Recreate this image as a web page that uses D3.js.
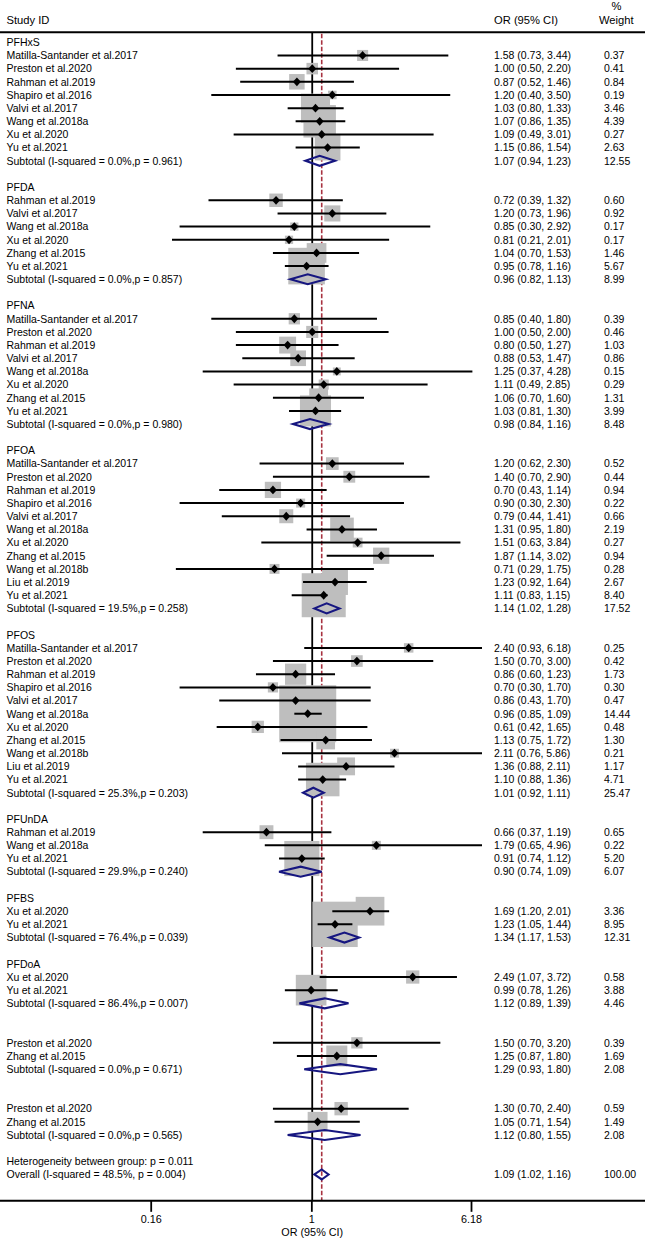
<!DOCTYPE html>
<html>
<head>
<meta charset="utf-8">
<script src="https://cdn.jsdelivr.net/npm/d3@7"></script>
<style>
  html, body { margin: 0; padding: 0; background: #fff; }
  svg { display: block; }
  text { font-family: "Liberation Sans", Arial, sans-serif; fill: #000; }
</style>
</head>
<body>
<svg id="chart" width="645" height="1240"></svg>
<script>
// ---------------- DATA ----------------
const groupNames = ["PFHxS", "PFDA", "PFNA", "PFOA", "PFOS", "PFUnDA", "PFBS", "PFDoA", "", ""];

const studyGroup = [
  0,0,0,0,0,0,0,0,
  1,1,1,1,1,1,
  2,2,2,2,2,2,2,2,
  3,3,3,3,3,3,3,3,3,3,3,
  4,4,4,4,4,4,4,4,4,4,4,
  5,5,5,
  6,6,
  7,7,
  8,8,
  9,9
];

const studyLabels = [
  "Matilla-Santander et al.2017","Preston et al.2020","Rahman et al.2019","Shapiro et al.2016","Valvi et al.2017","Wang et al.2018a","Xu et al.2020","Yu et al.2021",
  "Rahman et al.2019","Valvi et al.2017","Wang et al.2018a","Xu et al.2020","Zhang et al.2015","Yu et al.2021",
  "Matilla-Santander et al.2017","Preston et al.2020","Rahman et al.2019","Valvi et al.2017","Wang et al.2018a","Xu et al.2020","Zhang et al.2015","Yu et al.2021",
  "Matilla-Santander et al.2017","Preston et al.2020","Rahman et al.2019","Shapiro et al.2016","Valvi et al.2017","Wang et al.2018a","Xu et al.2020","Zhang et al.2015","Wang et al.2018b","Liu et al.2019","Yu et al.2021",
  "Matilla-Santander et al.2017","Preston et al.2020","Rahman et al.2019","Shapiro et al.2016","Valvi et al.2017","Wang et al.2018a","Xu et al.2020","Zhang et al.2015","Wang et al.2018b","Liu et al.2019","Yu et al.2021",
  "Rahman et al.2019","Wang et al.2018a","Yu et al.2021",
  "Xu et al.2020","Yu et al.2021",
  "Xu et al.2020","Yu et al.2021",
  "Preston et al.2020","Zhang et al.2015",
  "Preston et al.2020","Zhang et al.2015"
];

const studyOR = [
  1.58,1.00,0.87,1.20,1.03,1.07,1.09,1.15,
  0.72,1.20,0.85,0.81,1.04,0.95,
  0.85,1.00,0.80,0.88,1.25,1.11,1.06,1.03,
  1.20,1.40,0.70,0.90,0.79,1.31,1.51,1.87,0.71,1.23,1.11,
  2.40,1.50,0.86,0.70,0.86,0.96,0.61,1.13,2.11,1.36,1.10,
  0.66,1.79,0.91,
  1.69,1.23,
  2.49,0.99,
  1.50,1.25,
  1.30,1.05
];
const studyLo = [
  0.73,0.50,0.52,0.40,0.80,0.86,0.49,0.86,
  0.39,0.73,0.30,0.21,0.70,0.78,
  0.40,0.50,0.50,0.53,0.37,0.49,0.70,0.81,
  0.62,0.70,0.43,0.30,0.44,0.95,0.63,1.14,0.29,0.92,0.83,
  0.93,0.70,0.60,0.30,0.43,0.85,0.42,0.75,0.76,0.88,0.88,
  0.37,0.65,0.74,
  1.20,1.05,
  1.07,0.78,
  0.70,0.87,
  0.70,0.71
];
const studyHi = [
  3.44,2.20,1.46,3.50,1.33,1.35,3.01,1.54,
  1.32,1.96,2.92,2.01,1.53,1.16,
  1.80,2.00,1.27,1.47,4.28,2.85,1.60,1.30,
  2.30,2.90,1.14,2.30,1.41,1.80,3.84,3.02,1.75,1.64,1.15,
  6.18,3.00,1.23,1.70,1.70,1.09,1.65,1.72,5.86,2.11,1.36,
  1.19,4.96,1.12,
  2.01,1.44,
  3.72,1.26,
  3.20,1.80,
  2.40,1.54
];
const studyWeight = [
  0.37,0.41,0.84,0.19,3.46,4.39,0.27,2.63,
  0.60,0.92,0.17,0.17,1.46,5.67,
  0.39,0.46,1.03,0.86,0.15,0.29,1.31,3.99,
  0.52,0.44,0.94,0.22,0.66,2.19,0.27,0.94,0.28,2.67,8.40,
  0.25,0.42,1.73,0.30,0.47,14.44,0.48,1.30,0.21,1.17,4.71,
  0.65,0.22,5.20,
  3.36,8.95,
  0.58,3.88,
  0.39,1.69,
  0.59,1.49
];

const subtotalLabels = [
  "Subtotal (I-squared = 0.0%,p = 0.961)",
  "Subtotal (I-squared = 0.0%,p = 0.857)",
  "Subtotal (I-squared = 0.0%,p = 0.980)",
  "Subtotal (I-squared = 19.5%,p = 0.258)",
  "Subtotal (I-squared = 25.3%,p = 0.203)",
  "Subtotal (I-squared = 29.9%,p = 0.240)",
  "Subtotal (I-squared = 76.4%,p = 0.039)",
  "Subtotal (I-squared = 86.4%,p = 0.007)",
  "Subtotal (I-squared = 0.0%,p = 0.671)",
  "Subtotal (I-squared = 0.0%,p = 0.565)"
];
const subtotalOR     = [1.07, 0.96, 0.98, 1.14, 1.01, 0.90, 1.34, 1.12, 1.29, 1.12];
const subtotalLo     = [0.94, 0.82, 0.84, 1.02, 0.92, 0.74, 1.17, 0.89, 0.93, 0.80];
const subtotalHi     = [1.23, 1.13, 1.16, 1.28, 1.11, 1.09, 1.53, 1.39, 1.80, 1.55];
const subtotalWeight = [12.55, 8.99, 8.48, 17.52, 25.47, 6.07, 12.31, 4.46, 2.08, 2.08];

const heterogeneityLabel = "Heterogeneity between group: p = 0.011";
const overallLabel = "Overall (I-squared = 48.5%, p = 0.004)";
const overallOR = 1.09, overallLo = 1.02, overallHi = 1.16, overallWeight = 100.00;

const axisTickValues = [0.16, 1, 6.18];
const headerStudy = "Study ID", headerEffect = "OR (95% CI)", headerWeightTop = "%", headerWeight = "Weight";
const axisTitle = "OR (95% CI)";

// ---------------- LAYOUT ----------------
const W = 645, H = 1240;
const svg = d3.select("#chart");

// build rows
const rows = [];
let r = 0;
groupNames.forEach((g, gi) => {
  rows.push({ type: "group", label: g, row: r++ });
  studyLabels.forEach((lab, i) => {
    if (studyGroup[i] === gi) {
      rows.push({ type: "study", label: lab, or: studyOR[i], lo: studyLo[i], hi: studyHi[i], w: studyWeight[i], row: r++ });
    }
  });
  rows.push({ type: "subtotal", label: subtotalLabels[gi], or: subtotalOR[gi], lo: subtotalLo[gi], hi: subtotalHi[gi], w: subtotalWeight[gi], row: r++ });
  r++; // blank row
});
rows.push({ type: "text", label: heterogeneityLabel, row: r++ });
rows.push({ type: "overall", label: overallLabel, or: overallOR, lo: overallLo, hi: overallHi, w: overallWeight, row: r++ });
const axisRow = r + 1;

const y = d3.scaleLinear().domain([0, axisRow]).range([42.3, 42.3 + axisRow * 13.165]);
// plotting scale (log OR), clipped at the plot region
const x = d3.scaleLog().domain([0.28, 4.67]).range([172, 482]).clamp(true);
// axis labelling scale as printed under the plot
const xAxisScale = d3.scaleLog().domain([0.16, 6.18]).range([150.7, 471]);
const boxSize = d3.scaleSqrt().domain([0, d3.max(studyWeight)]).range([2.3, 57]);

const colX = { label: 6.5, effect: 494, weight: 604 };
const FS = 10.5;
const baseOff = 3.8;
const fmt = d3.format(".2f");

const yTop = 32.3, yAxis = y(axisRow);

// header
svg.append("text").attr("x", colX.label).attr("y", 24).attr("font-size", 11.2).text(headerStudy);
svg.append("text").attr("x", colX.effect).attr("y", 24).attr("font-size", 11.2).text(headerEffect);
svg.append("text").attr("x", 616.5).attr("y", 9.5).attr("font-size", 11.2).attr("text-anchor", "middle").text(headerWeightTop);
svg.append("text").attr("x", 599).attr("y", 24).attr("font-size", 11.2).text(headerWeight);
svg.append("line").attr("x1", 0).attr("x2", W).attr("y1", yTop).attr("y2", yTop)
  .attr("stroke", "#000").attr("stroke-width", 2);

// reference lines
const g = svg.append("g");
g.append("line").attr("x1", x(1)).attr("x2", x(1)).attr("y1", yTop).attr("y2", yAxis)
  .attr("stroke", "#000").attr("stroke-width", 1.8);
g.append("line").attr("x1", x(overallOR)).attr("x2", x(overallOR)).attr("y1", yTop + 1.5).attr("y2", yAxis)
  .attr("stroke", "#a83240").attr("stroke-width", 1.6).attr("stroke-dasharray", "4.5,2");

const studies = rows.filter(d => d.type === "study");
const pooled = rows.filter(d => d.type === "subtotal" || d.type === "overall");

// weight boxes
g.selectAll("rect.box").data(studies).join("rect").attr("class", "box")
  .attr("x", d => x(d.or) - boxSize(d.w) / 2)
  .attr("y", d => y(d.row) - boxSize(d.w) / 2)
  .attr("width", d => boxSize(d.w))
  .attr("height", d => boxSize(d.w))
  .attr("fill", "#bebebe");

// CI lines
g.selectAll("line.ci").data(studies).join("line").attr("class", "ci")
  .attr("x1", d => x(d.lo)).attr("x2", d => x(d.hi))
  .attr("y1", d => y(d.row)).attr("y2", d => y(d.row))
  .attr("stroke", "#000").attr("stroke-width", 2);

// point markers
g.selectAll("path.pt").data(studies).join("path").attr("class", "pt")
  .attr("d", d => {
    const cx = x(d.or), cy = y(d.row);
    return `M${cx - 4},${cy}L${cx},${cy - 4.4}L${cx + 4},${cy}L${cx},${cy + 4.4}Z`;
  })
  .attr("fill", "#000");

// pooled diamonds
g.selectAll("path.dia").data(pooled).join("path").attr("class", "dia")
  .attr("d", d => {
    const cy = y(d.row);
    return `M${x(d.lo)},${cy}L${x(d.or)},${cy - 5}L${x(d.hi)},${cy}L${x(d.or)},${cy + 5}Z`;
  })
  .attr("fill", "none").attr("stroke", "#161680").attr("stroke-width", 2.1).attr("stroke-linejoin", "miter");

// text columns
const textRows = rows.filter(d => d.label !== "");
svg.selectAll("text.lab").data(textRows).join("text").attr("class", "lab")
  .attr("x", colX.label).attr("y", d => y(d.row) + baseOff)
  .attr("font-size", FS).text(d => d.label);

const valueRows = rows.filter(d => d.or !== undefined);
svg.selectAll("text.eff").data(valueRows).join("text").attr("class", "eff")
  .attr("x", colX.effect).attr("y", d => y(d.row) + baseOff)
  .attr("font-size", FS).text(d => `${fmt(d.or)} (${fmt(d.lo)}, ${fmt(d.hi)})`);
svg.selectAll("text.wt").data(valueRows).join("text").attr("class", "wt")
  .attr("x", colX.weight).attr("y", d => y(d.row) + baseOff)
  .attr("font-size", FS).text(d => fmt(d.w));

// axis
svg.append("line").attr("x1", 0).attr("x2", W).attr("y1", yAxis).attr("y2", yAxis)
  .attr("stroke", "#000").attr("stroke-width", 2);
const axisG = svg.append("g").attr("transform", `translate(0,${yAxis})`)
  .call(d3.axisBottom(xAxisScale).tickValues(axisTickValues).tickFormat(d => String(d)).tickSize(11).tickPadding(3.5));
axisG.select(".domain").remove();
axisG.selectAll(".tick line").attr("stroke", "#000").attr("stroke-width", 1.8);
axisG.selectAll(".tick text").attr("font-size", 10.8).attr("font-family", "Liberation Sans, Arial, sans-serif").attr("fill", "#000");
svg.append("text").attr("x", x(1)).attr("y", 1236).attr("text-anchor", "middle")
  .attr("font-size", 10.8).text(axisTitle);
</script>
</body>
</html>
